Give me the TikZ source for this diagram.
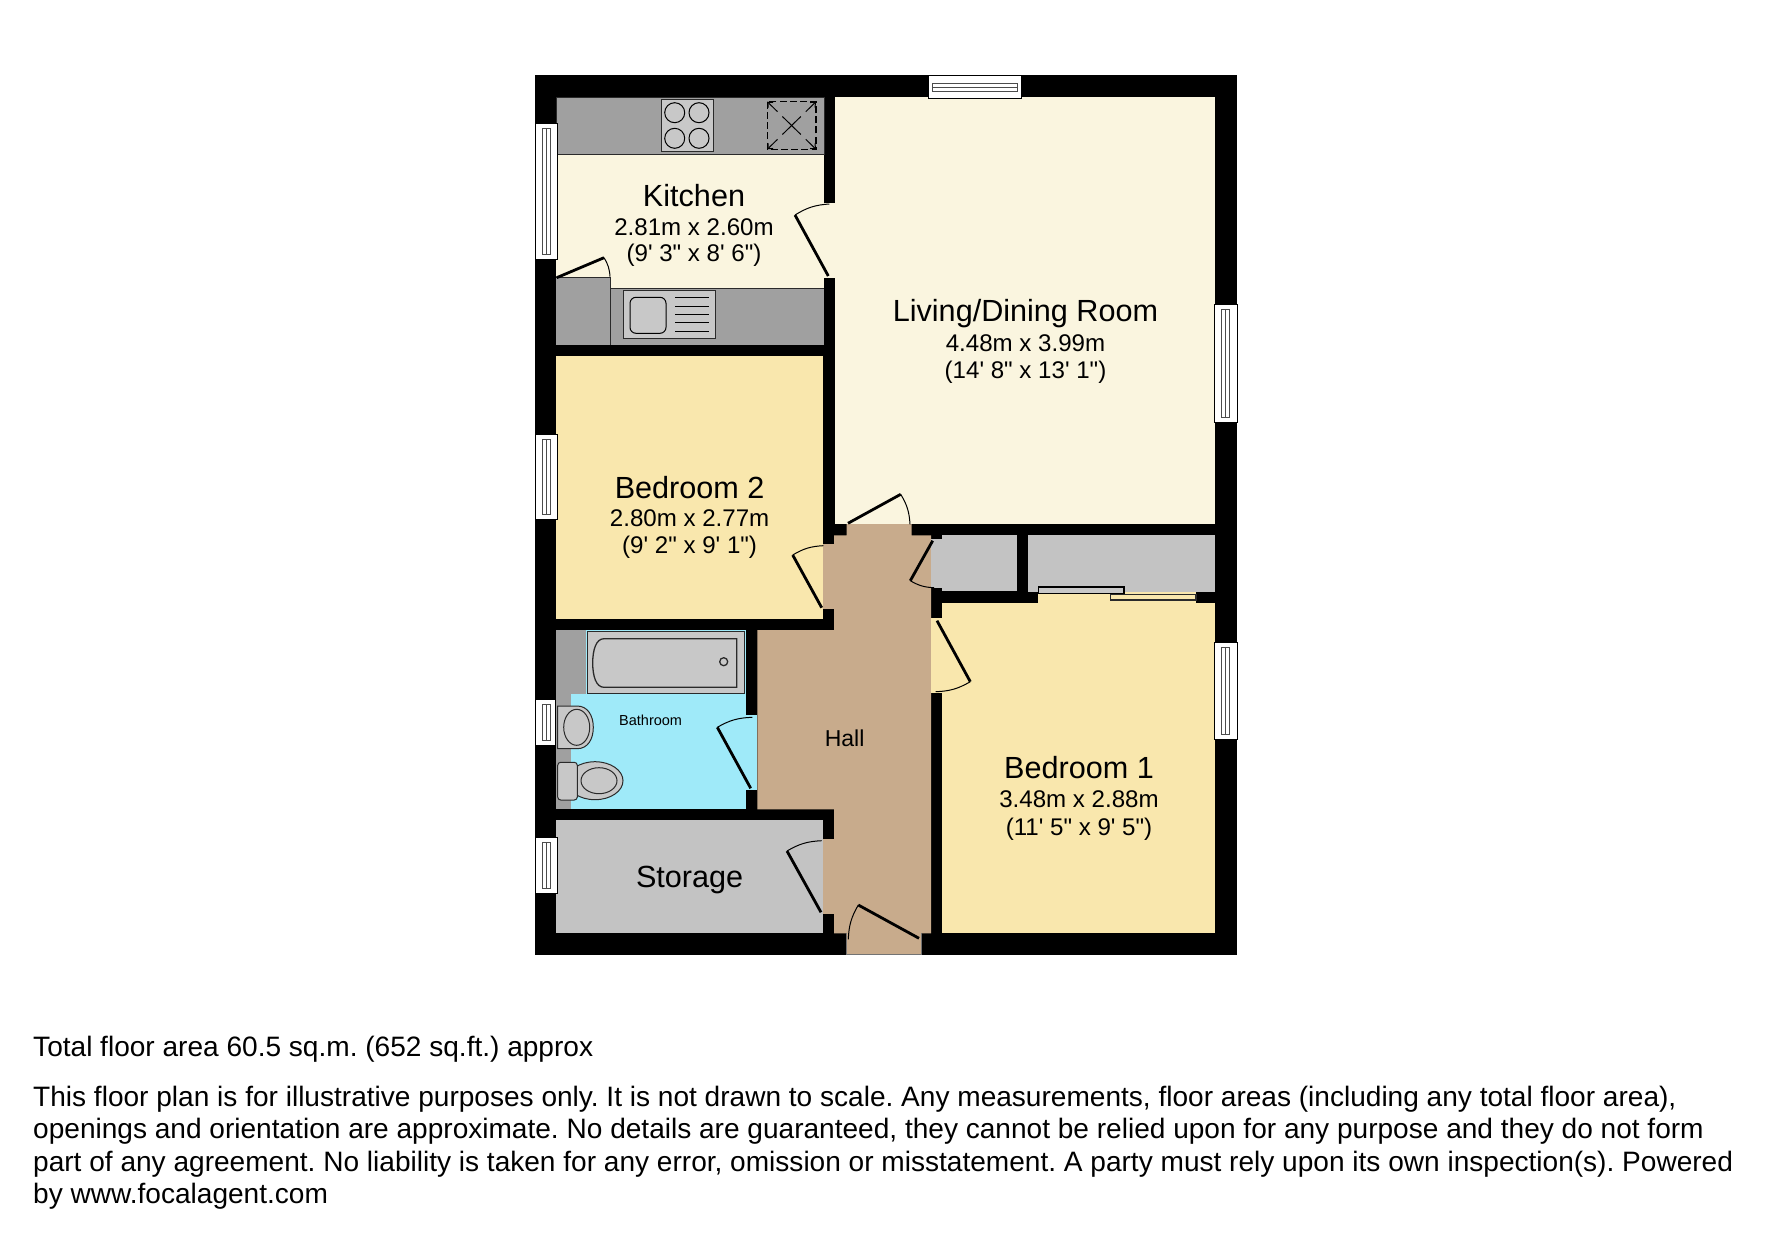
\documentclass[tikz,border=0pt]{standalone}
\usepackage{fontspec}
\newfontfamily\planfont{Liberation Sans}
\usetikzlibrary{arrows.meta}
\definecolor{cLiving}{HTML}{FAF5DF}
\definecolor{cBed}{HTML}{F9E7AD}
\definecolor{cHall}{HTML}{C8AB8C}
\definecolor{cBath}{HTML}{9FEAF9}
\definecolor{cStore}{HTML}{C3C3C3}
\definecolor{cCounter}{HTML}{A0A0A0}
\definecolor{cAppl}{HTML}{C8C8C8}
\definecolor{cEdge}{HTML}{2A2A2A}
\tikzset{
  roomtitle/.style={font=\planfont\fontsize{30.6}{32}\selectfont,anchor=base,inner sep=0pt,text=black},
  roomsize/.style={font=\planfont\fontsize{24.1}{25}\selectfont,anchor=base,inner sep=0pt,text=black},
  notetext/.style={font=\planfont\frenchspacing\fontsize{28.06}{30}\selectfont,anchor=base west,inner sep=0pt,text=black},
  appl/.style={fill=cAppl,draw=cEdge,line width=1pt},
  counter/.style={fill=cCounter,draw=cEdge,line width=1pt},
  leaf/.style={line width=2.8pt,black},
  swing/.style={line width=1pt,black},
  winframe/.style={fill=white,draw=black,line width=1pt},
  winline/.style={draw=black!70,line width=.9pt}
}
\newcommand{\winV}[4]{% x1 y1 x2 y2
  \draw[winframe] (#1,#2) rectangle (#3,#4);
  \draw[winline] ({#1+7.5},{#2+5}) rectangle ({#1+15},{#4-5});
  \draw[winline] ({#1+11},{#2+5}) -- ({#1+11},{#4-5});
}
\newcommand{\doorCW}[6]{% hinge, free, end
  \draw[leaf] (#1,#2) -- (#3,#4);
  \draw[swing] (#3,#4) to[bend left=14] (#5,#6);
}
\newcommand{\doorCCW}[6]{%
  \draw[leaf] (#1,#2) -- (#3,#4);
  \draw[swing] (#3,#4) to[bend right=14] (#5,#6);
}
\begin{document}
\begin{tikzpicture}[x=1pt,y=-1pt]
\useasboundingbox (0,0) rectangle (1771,1239);
\fill[white] (0,0) rectangle (1771,1239);
% building as a black block
\fill[black] (535,75.3) rectangle (1237,955);
% rooms
\fill[cLiving] (556,97.3) rectangle (824,345);
\fill[cBed] (556,355.7) rectangle (822.7,618.5);
\fill[cLiving] (834.5,97.3) rectangle (1215,524);
\fill[cHall] (846.7,524) -- (911.7,524) -- (911.7,535.3) -- (931,535.3) -- (931,933.3)
  -- (921.7,933.3) -- (921.7,954.3) -- (846.7,954.3) -- (846.7,933.3) -- (834,933.3)
  -- (834,809.3) -- (757.3,809.3) -- (757.3,630) -- (834,630) -- (834,535.3) -- (846.7,535.3) -- cycle;
\draw[line width=.8pt,black!55] (846.7,933.3) -- (846.7,954.6) -- (921.7,954.6) -- (921.7,933.3);
\fill[cBed] (941.7,602.7) rectangle (1215,933.3);
\fill[cBed] (1038.3,592) rectangle (1196,602.7);
\fill[cStore] (941.7,535.3) rectangle (1016.7,591);
\fill[cStore] (1028,535.3) rectangle (1215,591.7);
\fill[cStore] (556,820.3) rectangle (822.7,933.3);
% bathroom
\fill[cCounter] (556,630) rectangle (586,694);
\fill[cCounter] (556,694) rectangle (570.7,809.3);
\fill[cBath] (586,630) rectangle (746,694);
\fill[cBath] (570.7,694) rectangle (746,809.3);
% door openings
\fill[cLiving] (823.5,202.7) rectangle (835,277.7);
\fill[cHall] (822.7,544) rectangle (834.2,609.3);
\fill[cHall] (822.7,839) rectangle (834.2,914);
\fill[cBath] (745.5,715) rectangle (757.3,790);
\fill[cBed] (930.8,618.3) rectangle (942,693.3);
\fill[cStore] (930.8,539) rectangle (942,588);
% wall stub beside the sliding doors
\fill[black] (1196,591.7) rectangle (1215,602.7);
% kitchen units
\draw[counter] (556,97.3) rectangle (824,154);
\fill[cCounter] (610,288) rectangle (824,345);
\draw[line width=1pt,cEdge] (610,288) -- (824,288);
\fill[cCounter] (556,277.7) rectangle (610,345);
\draw[line width=1pt,cEdge] (556,277.7) -- (610,277.7) -- (610,345);
\draw[appl] (661.3,99.7) rectangle (713.3,151.3);
\foreach \cx/\cy in {674.7/112.7,699/112.7,674.7/138.3,699/138.3}
  \draw[line width=1pt,black] (\cx,\cy) circle[radius=10];
% extractor
\draw[line width=1.1pt,black,dash pattern=on 7pt off 3.2pt] (767.3,101.7) rectangle (816,149.3);
\foreach \ex/\ey in {767.3/101.7,816/101.7,767.3/149.3,816/149.3}{
  \draw[line width=1pt,black] (791.6,125.5) -- ({791.6+.38*(\ex-791.6)},{125.5+.38*(\ey-125.5)});
  \draw[line width=1pt,black,-{Straight Barb[length=4pt,width=7pt]}] ({791.6+.58*(\ex-791.6)},{125.5+.58*(\ey-125.5)}) -- (\ex,\ey);
}
% sink
\draw[appl] (623.7,290.3) rectangle (715.7,338.3);
\draw[line width=1pt,black,rounded corners=6pt] (630,297.3) rectangle (666,333.3);
\foreach \ly in {297.3,306,314.3,322.7,331.3}
  \draw[line width=1pt,black] (675.3,\ly) -- (709,\ly);
% bath
\draw[appl] (587,631.7) rectangle (744.3,693.7);
\draw[line width=1.3pt,cEdge] (736.7,638.7) -- (604,638.7) .. controls (596,638.7) and (592.7,650) .. (592.7,663)
  .. controls (592.7,676) and (596,687.3) .. (604,687.3) -- (736.7,687.3) -- cycle;
\draw[line width=1.3pt,cEdge] (723.7,661.7) circle[radius=4];
% hand basin
\draw[appl] (557.7,706) -- (577,706) .. controls (588,706) and (593.3,716) .. (593.3,727.3)
  .. controls (593.3,739) and (588,748.7) .. (577,748.7) -- (557.7,748.7) -- cycle;
\draw[line width=1pt,cEdge] (576.7,727.3) ellipse[x radius=13,y radius=18];
% toilet
\draw[appl] (595,780.7) ellipse[x radius=28,y radius=19];
\draw[line width=1pt,cEdge] (599,780.7) ellipse[x radius=18,y radius=13];
\draw[appl,rounded corners=3pt] (557.7,762.3) rectangle (577.3,800);
% sliding doors
\draw[fill=cAppl,draw=black,line width=1.1pt] (1038.3,587) rectangle (1124,593.3);
\draw[fill=cBed,draw=cEdge,line width=1.1pt] (1110.7,594.3) rectangle (1196,600);
% doors
\doorCW{828.3}{276}{795}{215}{829.3}{204}
\doorCW{556.7}{277.7}{604}{257.7}{610}{276.7}
\doorCW{821.7}{607.7}{792.7}{555}{823.3}{545.7}
\doorCW{848}{523.3}{900.7}{494.3}{910}{524.3}
\doorCCW{932.7}{540.7}{910.3}{580.7}{934}{587.7}
\doorCW{937}{620.7}{970.3}{681.7}{935.7}{691.7}
\doorCW{750.7}{788.3}{717.3}{727.3}{752.3}{717.3}
\doorCW{821}{912.3}{787}{851}{821.7}{840.7}
\doorCCW{919}{938.3}{858.3}{905}{848.3}{939.3}
% windows
\winV{535}{123.3}{557.3}{259.3}
\winV{535}{434}{557.3}{519.3}
\winV{535}{699}{555}{745.7}
\winV{535}{837.7}{557.3}{893.3}
\winV{1214.3}{304}{1237}{422}
\winV{1214.3}{642.3}{1237.4}{739.3}
\draw[winframe] (928,75.3) rectangle (1021.7,98.7);
\draw[winline] (932.3,83.3) rectangle (1017.3,91);
\draw[winline] (932.3,87) -- (1017.3,87);
% labels
\node[roomtitle] (kitT) at (694,206) {Kitchen};
\node[roomsize] (kitA) at (694,235) {2.81m x 2.60m};
\node[roomsize] (kitB) at (694,261.7) {(9' 3" x 8' 6")};
\node[roomtitle] (livT) at (1025.5,321.7) {Living/Dining Room};
\node[roomsize] (livA) at (1025.5,351.7) {4.48m x 3.99m};
\node[roomsize] (livB) at (1025.5,378.3) {(14' 8" x 13' 1")};
\node[roomtitle] (bedbT) at (689.6,498) {Bedroom 2};
\node[roomsize] (bedbA) at (689.6,526.7) {2.80m x 2.77m};
\node[roomsize] (bedbB) at (689.6,553.3) {(9' 2" x 9' 1")};
\node[roomtitle] (bedaT) at (1079,778.7) {Bedroom 1};
\node[roomsize] (bedaA) at (1079,807.7) {3.48m x 2.88m};
\node[roomsize] (bedaB) at (1079,835) {(11' 5" x 9' 5")};
\node[roomtitle] (stor) at (689.6,887) {Storage};
\node[anchor=base,inner sep=0pt,font=\planfont\fontsize{23}{25}\selectfont] (hall) at (844.6,746.6) {Hall};
\node[anchor=base,inner sep=0pt,font=\planfont\fontsize{14.5}{16}\selectfont] (bath) at (650.6,725) {Bathroom};
% notes
\node[notetext] (n1) at (33,1056) {Total floor area 60.5 sq.m. (652 sq.ft.) approx};
\node[notetext] (n2) at (33,1106) {This floor plan is for illustrative purposes only. It is not drawn to scale. Any measurements, floor areas (including any total floor area),};
\node[notetext] (n3) at (33,1138.5) {openings and orientation are approximate. No details are guaranteed, they cannot be relied upon for any purpose and they do not form};
\node[notetext] (n4) at (33,1171) {part of any agreement. No liability is taken for any error, omission or misstatement. A party must rely upon its own inspection(s). Powered};
\node[notetext] (n5) at (33,1203) {by www.focalagent.com};
\end{tikzpicture}
\end{document}
